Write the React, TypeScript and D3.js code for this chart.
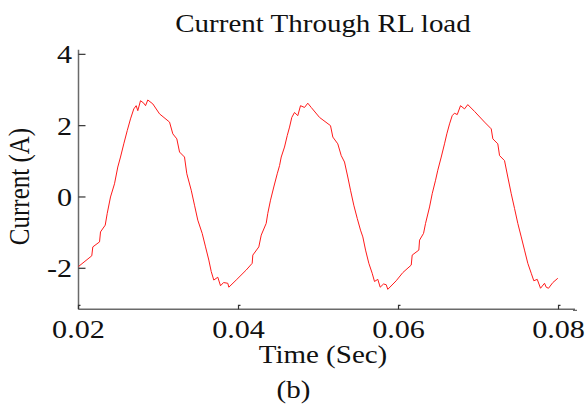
import * as d3 from "d3";

// samples (seconds, amperes)
const time = [
  0.02, 0.02166, 0.02179, 0.02263, 0.02275, 0.02334, 0.02359, 0.024, 0.0245, 0.02491,
  0.02525, 0.02566, 0.02609, 0.0265, 0.02691, 0.02721, 0.02741, 0.02775, 0.02816, 0.02838,
  0.02866, 0.02929, 0.03013, 0.03138, 0.03179, 0.03229, 0.03263, 0.03325, 0.03354, 0.03409,
  0.0345, 0.03491, 0.03546, 0.03588, 0.03629, 0.03659, 0.03691, 0.03741, 0.03775, 0.03813,
  0.03866, 0.03879, 0.03971, 0.04096, 0.04171, 0.04179, 0.04254, 0.04284, 0.04346, 0.04366,
  0.044, 0.04441, 0.04484, 0.04513, 0.04534, 0.04575, 0.04609, 0.04638, 0.04666, 0.047,
  0.04741, 0.04775, 0.04825, 0.04866, 0.04909, 0.05013, 0.0515, 0.05179, 0.05241, 0.05284,
  0.05325, 0.05366, 0.054, 0.05441, 0.05484, 0.05525, 0.05554, 0.05588, 0.05629, 0.05671,
  0.057, 0.05741, 0.05771, 0.05813, 0.05846, 0.05866, 0.05971, 0.06054, 0.06159, 0.06171,
  0.06254, 0.06263, 0.06313, 0.06338, 0.06388, 0.06421, 0.06463, 0.06491, 0.06534, 0.06575,
  0.06604, 0.06638, 0.06671, 0.067, 0.06734, 0.06775, 0.06825, 0.06866, 0.0695, 0.07075,
  0.07159, 0.07179, 0.07241, 0.07263, 0.07325, 0.07366, 0.07409, 0.0745, 0.07491, 0.07534,
  0.07575, 0.07616, 0.07659, 0.07691, 0.07734, 0.07775, 0.07825, 0.07846, 0.07875, 0.07929,
  0.07991,
];
const current = [
  -1.95, -1.65, -1.4, -1.26, -0.98, -0.79, -0.46, 0, 0.37, 0.84,
  1.12, 1.49, 1.86, 2.19, 2.47, 2.56, 2.42, 2.7, 2.63, 2.56,
  2.72, 2.61, 2.33, 2.1, 1.77, 1.63, 1.26, 1.12, 0.65, 0.19,
  -0.23, -0.65, -1.02, -1.4, -1.77, -2.09, -2.33, -2.25, -2.49, -2.4,
  -2.42, -2.53, -2.33, -2.05, -1.86, -1.63, -1.4, -1.07, -0.74, -0.46,
  -0.09, 0.28, 0.65, 0.88, 1.12, 1.4, 1.72, 1.96, 2.23, 2.37,
  2.28, 2.56, 2.51, 2.63, 2.51, 2.23, 2.0, 1.68, 1.49, 1.16,
  0.98, 0.56, 0.19, -0.23, -0.6, -0.93, -1.12, -1.49, -1.86, -2.14,
  -2.37, -2.31, -2.53, -2.44, -2.46, -2.59, -2.35, -2.12, -1.91, -1.63,
  -1.49, -1.21, -1.02, -0.74, -0.28, 0.09, 0.47, 0.75, 1.12, 1.49,
  1.77, 2.05, 2.28, 2.35, 2.31, 2.56, 2.47, 2.59, 2.4, 2.1,
  1.91, 1.63, 1.49, 1.16, 1.02, 0.56, 0.09, -0.32, -0.74, -1.12,
  -1.49, -1.86, -2.14, -2.35, -2.31, -2.56, -2.42, -2.53, -2.56, -2.4,
  -2.28,
];

const xTicks = [0.02, 0.04, 0.06, 0.08];
const yTicks = [-2, 0, 2, 4];
const xDomain = [0.02, 0.08206];
const yDomain = [-3.15, 4.13];

const title = "Current Through RL load";
const xLabel = "Time (Sec)";
const yLabel = "Current (A)";
const caption = "(b)";

const W = 587;
const H = 412;
const STRETCH = 1.16; // the source picture is a bit wider than tall
const FONT = "'Liberation Serif', 'Times New Roman', serif";

function Txt({ x, y, size, anchor = "middle", rotate = false, children }: any) {
  return (
    <text
      transform={`translate(${x},${y}) scale(${STRETCH},1)${rotate ? " rotate(-90)" : ""}`}
      textAnchor={anchor}
      fontSize={size}
      fontFamily={FONT}
      fill="#111"
    >
      {children}
    </text>
  );
}

export default function App() {
  const x = d3.scaleLinear().domain(xDomain).range([78.5, 575]);
  const y = d3.scaleLinear().domain(yDomain).range([309.3, 49.7]);

  const pts: [number, number][] = time.map((t, i) => [t, current[i]]);
  const line = d3
    .line<[number, number]>()
    .x((d) => x(d[0]))
    .y((d) => y(d[1]));

  const [x0, x1] = x.range();
  const [yb, yt] = y.range();

  return (
    <svg
      width={W}
      height={H}
      style={{ position: "absolute", left: 0, top: 0, background: "#fff" }}
    >
      {/* title */}
      <Txt x={323} y={32} size={25}>
        {title}
      </Txt>

      {/* axes */}
      <line x1={x0} y1={yt} x2={x0} y2={yb} stroke="#6a6a6a" strokeWidth={1.5} />
      <line x1={x0} y1={yb} x2={x1} y2={yb} stroke="#6a6a6a" strokeWidth={1.5} />
      <line x1={x1 - 2} y1={yb + 1} x2={x1 + 2} y2={yb + 1} stroke="#444" strokeWidth={1} />

      {yTicks.map((v) => (
        <g key={"y" + v}>
          <path d={`M${x0},${y(v)} h7`} stroke="#333" strokeWidth={1.2} fill="none" />
          <Txt x={72} y={y(v) + 9} size={26} anchor="end">
            {String(v)}
          </Txt>
        </g>
      ))}

      {xTicks.map((v) => (
        <g key={"x" + v}>
          <path d={`M${x(v)},${yb} v-4 h2`} stroke="#333" strokeWidth={1.2} fill="none" />
          <Txt x={x(v)} y={338} size={26}>
            {v.toFixed(2)}
          </Txt>
        </g>
      ))}

      {/* trace */}
      <path d={line(pts) || ""} fill="none" stroke="#ff1a1a" strokeWidth={1} />

      {/* labels */}
      <Txt x={323} y={363} size={25}>
        {xLabel}
      </Txt>
      <Txt x={28.5} y={186.5} size={25} rotate>
        {yLabel}
      </Txt>
      <Txt x={293.5} y={398} size={25}>
        {caption}
      </Txt>
    </svg>
  );
}
